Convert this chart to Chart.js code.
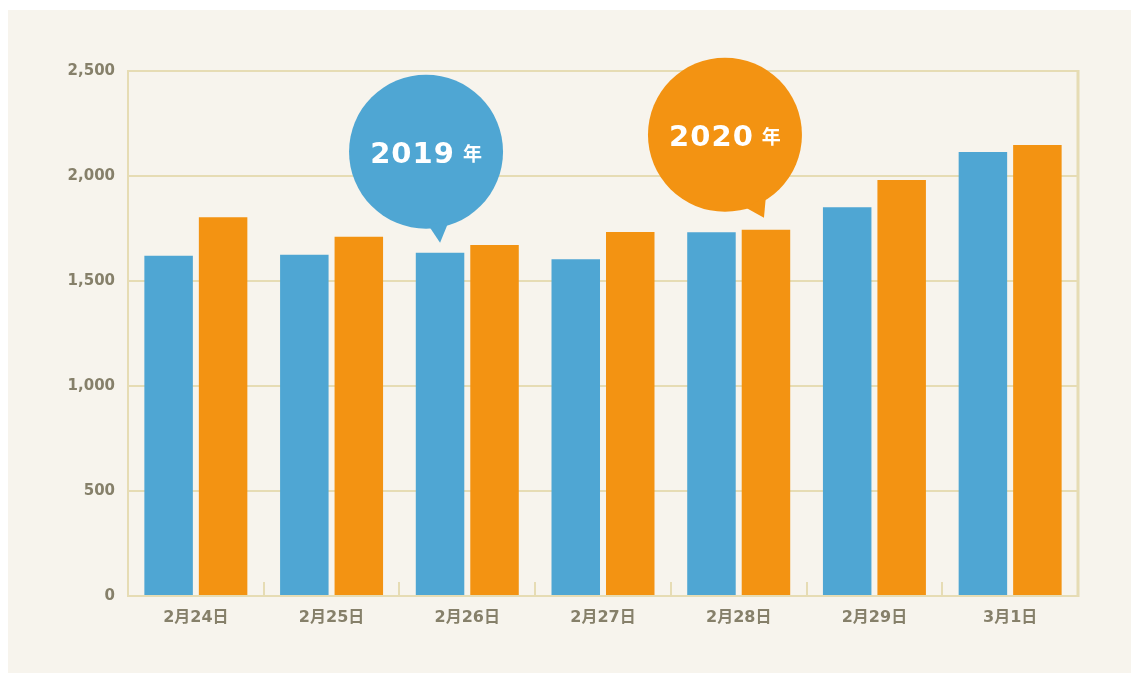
<!DOCTYPE html>
<html>
<head>
<meta charset="utf-8">
<script src="https://cdn.jsdelivr.net/npm/chart.js@4"></script>
<style>
  html, body { margin: 0; padding: 0; background: #fff; }
  #wrap { position: relative; width: 1131px; height: 673px; }
</style>
</head>
<body>
<div id="wrap"><canvas id="salesChart" width="1131" height="673"></canvas></div>
<script>
// data
const days = ['2月24日', '2月25日', '2月26日', '2月27日', '2月28日', '2月29日', '3月1日'];
const values2019 = [1620, 1625, 1635, 1603, 1732, 1851, 2114];
const values2020 = [1803, 1711, 1671, 1733, 1744, 1981, 2148];
const yTicks = [0, 500, 1000, 1500, 2000, 2500];

const BLUE = '#4fa6d3';
const ORANGE = '#f39312';
const LINE = '#e6dcb4';
const TEXT = '#86806a';

// panel background, right border and the little ticks between days
const decoPlugin = {
  id: 'deco',
  beforeDraw(chart) {
    const c = chart.ctx;
    c.save();
    c.fillStyle = '#ffffff';
    c.fillRect(0, 0, chart.width, chart.height);
    c.fillStyle = '#f7f4ed';
    c.fillRect(8, 10, chart.width - 8, chart.height - 10);
    c.restore();
  },
  afterDraw(chart) {
    const c = chart.ctx;
    const area = chart.chartArea;
    const x = chart.scales.x;
    c.save();
    c.strokeStyle = LINE;
    c.lineWidth = 3;
    c.beginPath();
    c.moveTo(area.right, area.top - 1);
    c.lineTo(area.right, area.bottom + 1);
    c.stroke();
    c.lineWidth = 2;
    for (let i = 1; i < days.length; i++) {
      const bx = Math.round((x.getPixelForValue(i - 1) + x.getPixelForValue(i)) / 2);
      c.beginPath();
      c.moveTo(bx, area.bottom);
      c.lineTo(bx, area.bottom - 14);
      c.stroke();
    }
    c.restore();
  }
};

// speech bubbles naming each year
function drawBubble(c, cx, cy, r, tail, color, label) {
  c.save();
  c.fillStyle = color;
  c.beginPath();
  c.arc(cx, cy, r, 0, Math.PI * 2);
  c.fill();
  c.beginPath();
  c.moveTo(tail[0][0], tail[0][1]);
  c.lineTo(tail[1][0], tail[1][1]);
  c.lineTo(tail[2][0], tail[2][1]);
  c.closePath();
  c.fill();

  const num = label.replace('年', '');
  c.fillStyle = '#ffffff';
  c.textBaseline = 'alphabetic';
  c.font = 'bold 29px "DejaVu Sans"';
  c.letterSpacing = '1px';
  const wNum = c.measureText(num).width - 1;
  c.letterSpacing = '0px';
  c.font = 'bold 19px "Noto Sans CJK JP"';
  const wNen = c.measureText('年').width;
  const gap = 9;
  const start = cx - (wNum + gap + wNen) / 2;
  c.font = 'bold 29px "DejaVu Sans"';
  c.letterSpacing = '1px';
  c.textAlign = 'left';
  c.fillText(num, start, cy + 11);
  c.letterSpacing = '0px';
  c.font = 'bold 19px "Noto Sans CJK JP"';
  c.fillText('年', start + wNum + gap, cy + 9);
  c.restore();
}

const bubblePlugin = {
  id: 'bubbles',
  afterDatasetsDraw(chart) {
    const c = chart.ctx;
    const b1 = chart.getDatasetMeta(0).data[2];
    const cx1 = b1.x - 14, cy1 = b1.y - 101;
    drawBubble(c, cx1, cy1, 77,
      [[b1.x - 12, b1.y - 28], [b1.x + 9, b1.y - 32], [b1.x, b1.y - 10]],
      BLUE, chart.data.datasets[0].label);
    const b2 = chart.getDatasetMeta(1).data[4];
    const cx2 = b2.x - 41, cy2 = b2.y - 95;
    drawBubble(c, cx2, cy2, 77,
      [[b2.x - 20, b2.y - 22], [b2.x, b2.y - 34], [b2.x - 2, b2.y - 12]],
      ORANGE, chart.data.datasets[1].label);
  }
};

const ctx = document.getElementById('salesChart').getContext('2d');
const salesChart = new Chart(ctx, {
  type: 'bar',
  data: {
    labels: days,
    datasets: [{
      label: '2019年',
      data: values2019,
      backgroundColor: BLUE,
      borderWidth: 0,
      categoryPercentage: 0.803,
      barPercentage: 0.89
    }, {
      label: '2020年',
      data: values2020,
      backgroundColor: ORANGE,
      borderWidth: 0,
      categoryPercentage: 0.803,
      barPercentage: 0.89
    }]
  },
  options: {
    responsive: false,
    animation: false,
    layout: { padding: { left: 8, top: 71, right: 53, bottom: 0 } },
    plugins: {
      legend: { display: false },
      tooltip: { enabled: false }
    },
    scales: {
      x: {
        grid: { display: false, drawTicks: false },
        border: { display: true, color: LINE, width: 2 },
        ticks: {
          color: TEXT,
          padding: 12,
          font: { family: '"DejaVu Sans", "Noto Sans CJK JP"', size: 16, weight: 'bold' }
        },
        afterFit(s) { s.height = 77; }
      },
      y: {
        min: 0,
        max: 2500,
        afterBuildTicks(s) { s.ticks = yTicks.map(v => ({ value: v })); },
        grid: { color: LINE, lineWidth: 2, drawTicks: false },
        border: { display: true, color: LINE, width: 2 },
        ticks: {
          color: TEXT,
          padding: 13,
          font: { family: '"DejaVu Sans"', size: 15, weight: 'bold' },
          callback: v => v.toLocaleString('en-US')
        },
        afterFit(s) { s.width = 120; }
      }
    }
  },
  plugins: [decoPlugin, bubblePlugin]
});
</script>
</body>
</html>
